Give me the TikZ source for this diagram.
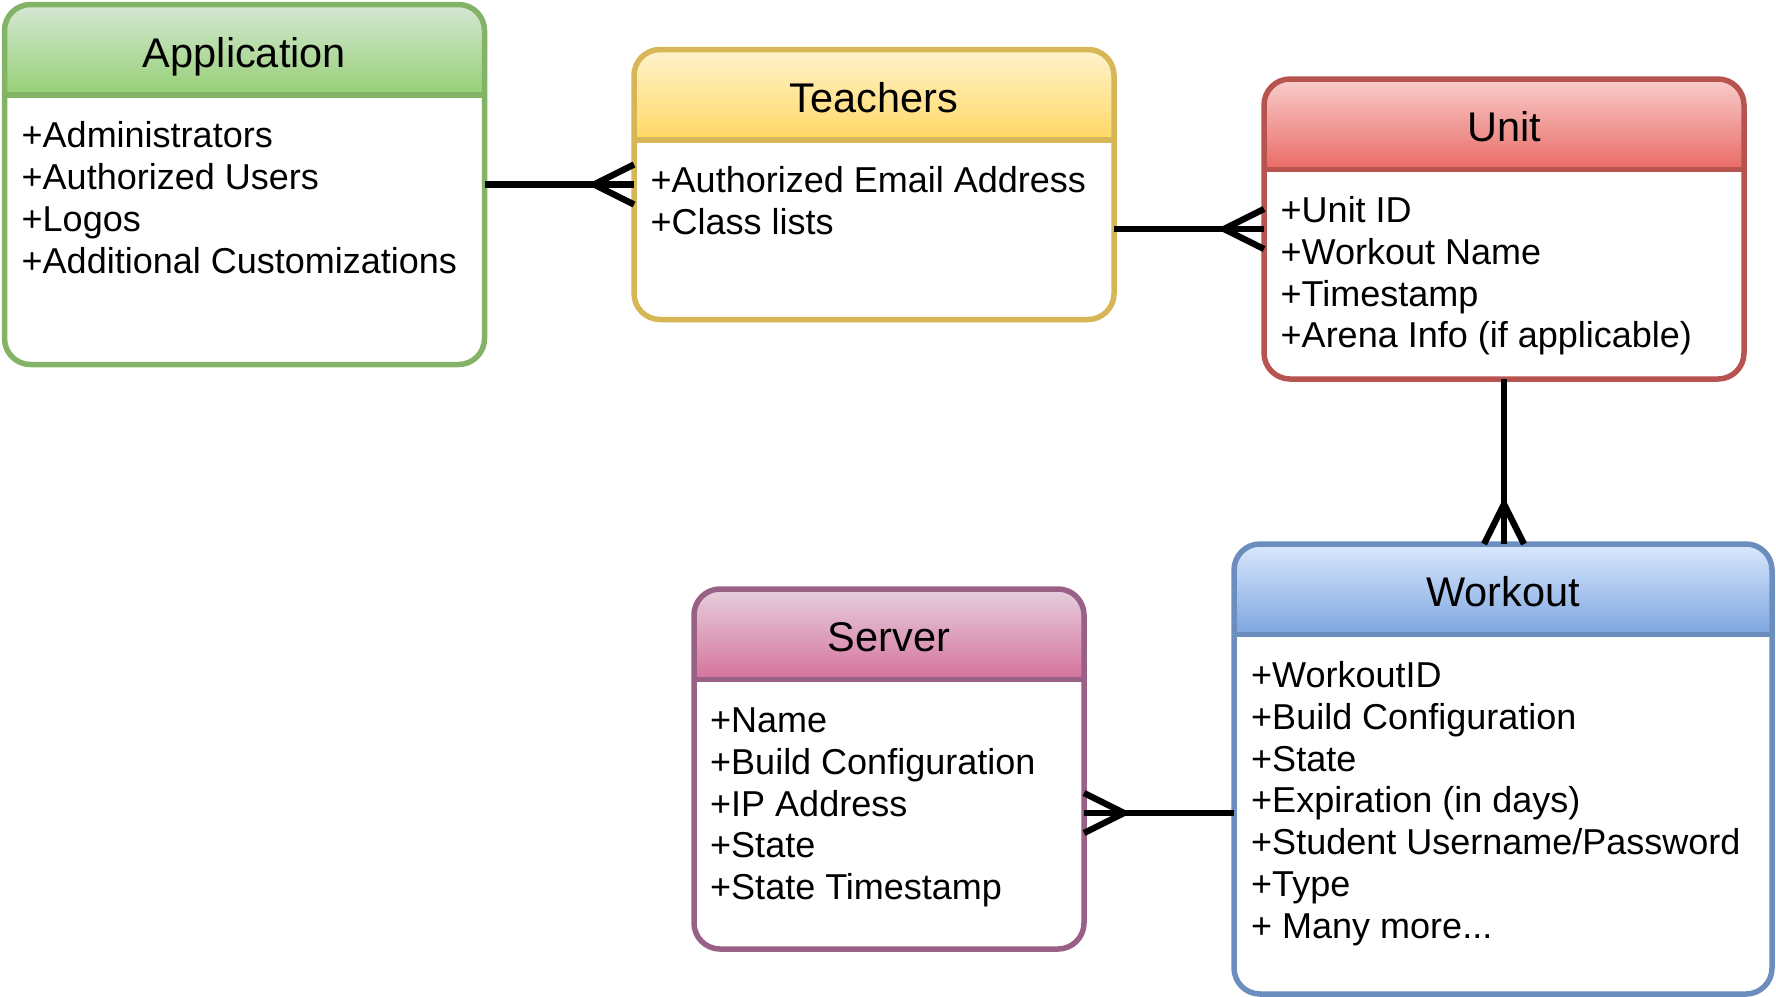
\documentclass[tikz,border=0pt]{standalone}
\usepackage{fontspec}
\setmainfont{Liberation Sans}
\usetikzlibrary{calc}
\definecolor{appline}{HTML}{82B366}\definecolor{apptop}{HTML}{D5E8D4}\definecolor{appbot}{HTML}{97D077}
\definecolor{tealine}{HTML}{D6B656}\definecolor{teatop}{HTML}{FFF2CC}\definecolor{teabot}{HTML}{FFD966}
\definecolor{unitline}{HTML}{B85450}\definecolor{unittop}{HTML}{F8CECC}\definecolor{unitbot}{HTML}{EA6B66}
\definecolor{wkline}{HTML}{6C8EBF}\definecolor{wktop}{HTML}{DAE8FC}\definecolor{wkbot}{HTML}{7EA6E0}
\definecolor{svline}{HTML}{996185}\definecolor{svtop}{HTML}{E6D0DE}\definecolor{svbot}{HTML}{D5739D}
\tikzset{
  entity/.style n args={3}{draw=#1, line width=5.5pt, rounded corners=26pt, fill=white,
    anchor=north west, inner sep=0pt, outer sep=0pt,
    path picture={\foreach \i [evaluate=\i as \p using {int(100-\i*100/44)},
                               evaluate=\i as \ya using {2.02*\i}] in {0,...,44}{
        \fill[sharp corners, #2!\p!#3] ([yshift=-\ya pt]path picture bounding box.north west)
          rectangle ([yshift=-\ya pt-2.6pt]path picture bounding box.north east);}}},
  hdrline/.style={draw=#1, line width=5.5pt},
  ttl/.style={anchor=base, inner sep=0pt, font=\fontsize{41.5}{48}\selectfont},
  body/.style={anchor=base west, inner sep=0pt, font=\fontsize{36}{41.9}\selectfont},
  conn/.style={draw=black, line width=6.3pt},
}
\begin{document}
\begin{tikzpicture}[x=1pt,y=-1pt]
\useasboundingbox (0,0) rectangle (1776,996);
% boxes
\node[entity={appline}{apptop}{appbot}, minimum width=480pt, minimum height=360pt] (app) at (4.5,4.5) {};
\node[entity={tealine}{teatop}{teabot}, minimum width=480pt, minimum height=270pt] (teachers) at (634,49.5) {};
\node[entity={unitline}{unittop}{unitbot}, minimum width=480pt, minimum height=300pt] (unit) at (1264,79) {};
\node[entity={wkline}{wktop}{wkbot}, minimum width=538pt, minimum height=450pt] (workout) at (1234,544) {};
\node[entity={svline}{svtop}{svbot}, minimum width=390pt, minimum height=360pt] (server) at (694,589) {};
% header separators
\foreach \n/\c in {app/appline, teachers/tealine, unit/unitline, workout/wkline, server/svline}{
  \draw[hdrline=\c] ([yshift=-90.5pt]\n.north west) -- ([yshift=-90.5pt]\n.north east);
}
% titles
\node[ttl] (apptitle) at ($(app.north)+(0,62.5)$) {Application};
\node[ttl] (teatitle) at ($(teachers.north)+(0,62.5)$) {Teachers};
\node[ttl] (unittitle) at ($(unit.north)+(0,62.5)$) {Unit};
\node[ttl] (wktitle) at ($(workout.north)+(0,62.5)$) {Workout};
\node[ttl] (svtitle) at ($(server.north)+(0,62.5)$) {Server};
% bodies
\node[body] (appbody) at ($(app.north west)+(17,143.2)$) {\vtop{\baselineskip=41.9pt
  \hbox{+Administrators}\hbox{+Authorized Users}\hbox{+Logos}\hbox{+Additional Customizations}}};
\node[body] (teabody) at ($(teachers.north west)+(16.5,143.2)$) {\vtop{\baselineskip=41.9pt
  \hbox{+Authorized Email Address}\hbox{+Class lists}}};
\node[body] (unitbody) at ($(unit.north west)+(16.5,143.2)$) {\vtop{\baselineskip=41.9pt
  \hbox{+Unit ID}\hbox{+Workout Name}\hbox{+Timestamp}\hbox{+Arena Info (if applicable)}}};
\node[body] (wkbody) at ($(workout.north west)+(17,143.2)$) {\vtop{\baselineskip=41.9pt
  \hbox{+WorkoutID}\hbox{+Build Configuration}\hbox{+State}\hbox{+Expiration (in days)}%
  \hbox{+Student Username/Password}\hbox{+Type}\hbox{+ Many more...}}};
\node[body] (svbody) at ($(server.north west)+(16,143.2)$) {\vtop{\baselineskip=41.9pt
  \hbox{+Name}\hbox{+Build Configuration}\hbox{+IP Address}\hbox{+State}\hbox{+State Timestamp}}};
% connectors
\draw[conn] (app.east) -- (teachers.west);
\coordinate (f1) at ([xshift=-40pt]teachers.west);
\draw[conn] (f1) -- ([yshift=20pt]teachers.west) (f1) -- ([yshift=-20pt]teachers.west);

\coordinate (t2) at (unit.west -| teachers.east);
\draw[conn] (t2) -- (unit.west);
\coordinate (f2) at ([xshift=-40pt]unit.west);
\draw[conn] (f2) -- ([yshift=20pt]unit.west) (f2) -- ([yshift=-20pt]unit.west);

\coordinate (wtop) at (unit.south |- workout.north);
\draw[conn] (unit.south) -- (wtop);
\coordinate (f3) at ([yshift=40pt]wtop);
\draw[conn] (f3) -- ([xshift=-20pt]wtop) (f3) -- ([xshift=20pt]wtop);

\coordinate (sv) at ([yshift=-44pt]server.east);
\coordinate (wl) at (sv -| workout.west);
\draw[conn] (sv) -- (wl);
\coordinate (f4) at ([xshift=40pt]sv);
\draw[conn] (f4) -- ([yshift=20pt]sv) (f4) -- ([yshift=-20pt]sv);
\end{tikzpicture}
\end{document}
